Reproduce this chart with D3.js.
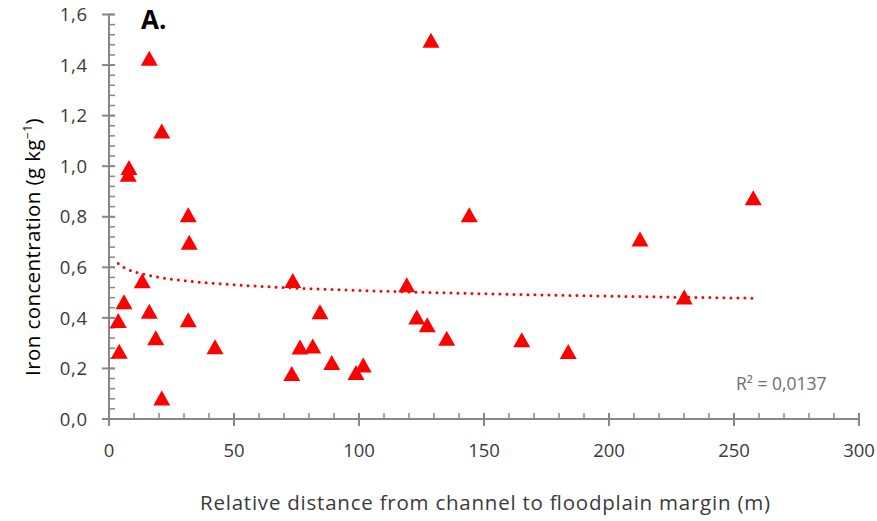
<!DOCTYPE html>
<html>
<head>
<meta charset="utf-8">
<script src="https://cdn.jsdelivr.net/npm/d3@7"></script>
<style>
  html, body { margin: 0; padding: 0; background: #fff; }
  svg { display: block; }
  text { font-family: "Open Sans", Lato, sans-serif; }
</style>
</head>
<body>
<svg id="chart" width="877" height="521"></svg>
<script>
// Relative distance from channel (m) and iron concentration (g/kg) per sample
const distance = [16.1, 128.8, 21.1, 8.0, 7.7, 31.7, 32.1, 13.3, 6.0, 3.7, 16.1, 31.7,
  18.7, 4.1, 42.4, 21.1, 73.5, 119.1, 144.1, 84.4, 123.1, 127.3, 135.1, 165.1,
  183.7, 76.4, 81.5, 89.1, 101.7, 98.8, 73.1, 257.7, 212.4, 230.1];
const iron = [1.426, 1.497, 1.138, 0.994, 0.967, 0.807, 0.698, 0.546, 0.463, 0.388, 0.425, 0.391,
  0.320, 0.267, 0.285, 0.082, 0.547, 0.530, 0.807, 0.423, 0.402, 0.372, 0.318, 0.312,
  0.266, 0.284, 0.288, 0.222, 0.212, 0.183, 0.179, 0.874, 0.711, 0.481];

const xTicks = [0, 50, 100, 150, 200, 250, 300];
const yTicks = [0, 0.2, 0.4, 0.6, 0.8, 1.0, 1.2, 1.4, 1.6];
const xMinorTicks = d3.range(0, 301, 10);
const yMinorTicks = d3.range(0, 41, 1).map(i => i * 0.04);
const panelLabel = "A.";
const rSquaredLabel = "R² = 0,0137";

const svg = d3.select("#chart");
const m = { left: 109, right: 18, top: 14.5, bottom: 102 };
const W = 877, H = 521;

const x = d3.scaleLinear().domain([0, 300]).range([m.left, W - m.right]);
const y = d3.scaleLinear().domain([0, 1.6]).range([H - m.bottom, m.top]);

const axisColor = "#878787";
const labelColor = "#3a3a3a";
const fmt = v => d3.format(".1f")(v).replace(".", ",");

// Y axis: minor ticks inside, major ticks crossing
const gy = svg.append("g");
gy.selectAll("line.minor").data(yMinorTicks).join("line")
  .attr("x1", x(0)).attr("x2", x(0) + 6)
  .attr("y1", d => y(d)).attr("y2", d => y(d))
  .attr("stroke", axisColor).attr("stroke-width", 1.5);
gy.selectAll("line.major").data(yTicks).join("line")
  .attr("x1", x(0) - 7).attr("x2", x(0) + 6)
  .attr("y1", d => y(d)).attr("y2", d => y(d))
  .attr("stroke", axisColor).attr("stroke-width", 2);
gy.append("line")
  .attr("x1", x(0)).attr("x2", x(0)).attr("y1", y(0) + 1).attr("y2", y(1.6) - 1)
  .attr("stroke", axisColor).attr("stroke-width", 2);
gy.selectAll("text").data(yTicks).join("text")
  .attr("x", x(0) - 21).attr("y", d => y(d)).attr("dy", "0.36em")
  .attr("text-anchor", "end").attr("font-size", 18.5).attr("letter-spacing", 0.8)
  .attr("fill", labelColor)
  .text(fmt);

// X axis: minor ticks inside (up), major ticks crossing
const gx = svg.append("g");
gx.selectAll("line.minor").data(xMinorTicks).join("line")
  .attr("x1", d => x(d)).attr("x2", d => x(d))
  .attr("y1", y(0)).attr("y2", y(0) - 6)
  .attr("stroke", axisColor).attr("stroke-width", 1.5);
gx.selectAll("line.major").data(xTicks).join("line")
  .attr("x1", d => x(d)).attr("x2", d => x(d))
  .attr("y1", y(0) + 7).attr("y2", y(0) - 6)
  .attr("stroke", axisColor).attr("stroke-width", 2);
gx.append("line")
  .attr("x1", x(0) - 1).attr("x2", x(300) + 1).attr("y1", y(0)).attr("y2", y(0))
  .attr("stroke", axisColor).attr("stroke-width", 2);
gx.selectAll("text").data(xTicks).join("text")
  .attr("x", d => x(d)).attr("y", 456.5)
  .attr("text-anchor", "middle").attr("font-size", 18.5).attr("fill", labelColor)
  .text(d => d);

// Axis titles
svg.append("text")
  .attr("x", 485).attr("y", 510)
  .attr("text-anchor", "middle").attr("font-size", 20.5).attr("fill", labelColor)
  .attr("textLength", 570).attr("lengthAdjust", "spacing")
  .text("Relative distance from channel to floodplain margin (m)");

const yt = svg.append("text")
  .attr("transform", "translate(40, 247) rotate(-90)")
  .attr("text-anchor", "middle").attr("font-size", 20.5).attr("letter-spacing", 0.4)
  .attr("fill", "#000");
yt.append("tspan").text("Iron concentration (g kg");
yt.append("tspan").attr("dy", -8).attr("font-size", 12).text("−1");
yt.append("tspan").attr("dy", 8).text(")");

// Logarithmic trendline: least squares of concentration on ln(distance)
const lx = distance.map(Math.log);
const mx = d3.mean(lx), my = d3.mean(iron);
const slope = d3.sum(lx, (v, i) => (v - mx) * (iron[i] - my)) / d3.sum(lx, v => (v - mx) ** 2);
const intercept = my - slope * mx;
const [xmin, xmax] = d3.extent(distance);
const trend = d3.range(0, 201).map(i => {
  const xv = xmin + (xmax - xmin) * i / 200;
  return [xv, intercept + slope * Math.log(xv)];
});
svg.append("path")
  .attr("d", d3.line().x(d => x(d[0])).y(d => y(d[1]))(trend))
  .attr("fill", "none").attr("stroke", "#ff0000").attr("stroke-width", 3)
  .attr("stroke-linecap", "round").attr("stroke-dasharray", "0 7");

// Triangle markers
svg.append("g").selectAll("path").data(distance).join("path")
  .attr("transform", (d, i) => `translate(${x(d)},${y(iron[i])})`)
  .attr("d", "M0,-7.8L8.5,7.2L-8.5,7.2Z")
  .attr("fill", "#ff0000");

// Panel label and fit statistic
svg.append("text")
  .attr("x", 141).attr("y", 29)
  .attr("font-family", "'Liberation Sans', Arial, sans-serif")
  .attr("font-weight", "bold").attr("font-size", 26).attr("fill", "#000")
  .text(panelLabel);

svg.append("text")
  .attr("x", 736).attr("y", 390)
  .attr("font-size", 17.5).attr("fill", "#6d6d6d")
  .text(rSquaredLabel);
</script>
</body>
</html>
